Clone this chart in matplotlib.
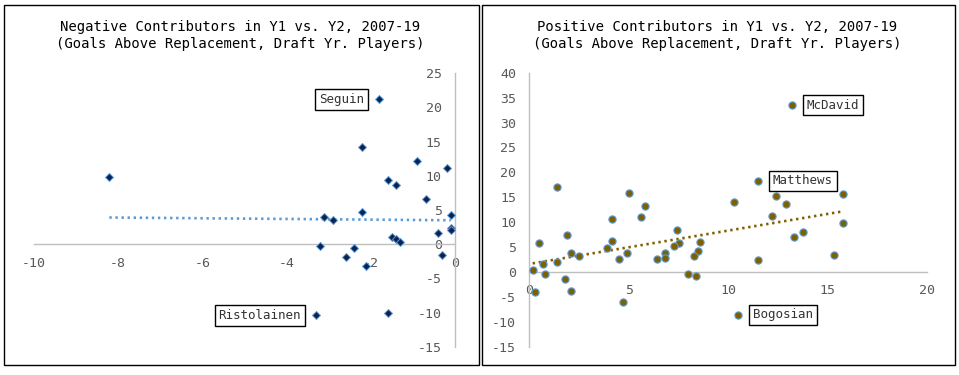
import numpy as np
import matplotlib
matplotlib.use("Agg")
import matplotlib.pyplot as plt
from matplotlib.patches import Rectangle

# ---------------- data ----------------
neg_y1 = [-8.21, -1.80, -2.20, -0.90, -0.18, -1.60, -1.40, -0.69, -2.20, -3.11,
          -2.90, -0.10, -0.10, -0.10, -0.40, -1.50, -1.40, -1.30, -3.21, -2.39,
          -2.60, -2.11, -0.30, -3.30, -1.60]
neg_y2 = [9.8, 21.2, 14.2, 12.1, 11.1, 9.4, 8.6, 6.6, 4.7, 4.0,
          3.5, 4.3, 2.4, 2.1, 1.6, 1.1, 0.7, 0.3, -0.3, -0.6,
          -1.9, -3.2, -1.6, -10.4, -10.1]

pos_y1 = [13.18, 11.47, 1.37, 5.01, 15.75, 12.38, 5.80, 10.27, 12.88, 4.17,
          5.59, 12.18, 15.75, 7.40, 13.77, 13.28, 1.88, 0.47, 4.17, 3.89,
          8.56, 7.50, 7.29, 8.46, 2.08, 2.48, 4.89, 6.80, 8.26, 15.31,
          4.49, 6.40, 6.80, 11.47, 1.37, 0.67, 0.17, 0.77, 7.96, 8.36,
          1.78, 0.27, 2.08, 4.69, 10.47]
pos_y2 = [33.5, 18.3, 17.1, 15.9, 15.7, 15.3, 13.3, 14.1, 13.7, 10.7,
          11.1, 11.3, 9.9, 8.5, 8.1, 7.1, 7.5, 5.9, 6.3, 4.9,
          6.0, 5.9, 5.2, 4.3, 3.9, 3.3, 3.9, 3.9, 3.3, 3.4,
          2.7, 2.7, 2.8, 2.5, 2.1, 1.7, 0.3, -0.5, -0.5, -0.9,
          -1.5, -4.0, -3.8, -6.0, -8.6]

neg_labels = {"Seguin": 1, "Ristolainen": 23}
pos_labels = {"McDavid": 0, "Matthews": 1, "Bogosian": 44}

neg_xticks = [-10, -8, -6, -4, -2, 0]
neg_yticks = [-15, -10, -5, 0, 5, 10, 15, 20, 25]
pos_xticks = [0, 5, 10, 15, 20]
pos_yticks = [-15, -10, -5, 0, 5, 10, 15, 20, 25, 30, 35, 40]

titles_neg = ["Negative Contributors in Y1 vs. Y2, 2007-19",
              "(Goals Above Replacement, Draft Yr. Players)"]
titles_pos = ["Positive Contributors in Y1 vs. Y2, 2007-19",
              "(Goals Above Replacement, Draft Yr. Players)"]

# ---------------- style ----------------
MONO = ["DejaVu Sans Mono"]
plt.rcParams['font.family'] = MONO
plt.rcParams['axes.unicode_minus'] = False
W, H = 959, 375
fig = plt.figure(figsize=(W / 100, H / 100), dpi=100)

AXIS_C = "#BFBFBF"
TICK_C = "#595959"
DOTS = (0, (0.9, 1.4))


def px_rect(x0, y0, x1, y1):
    return [x0 / W, 1 - y1 / H, (x1 - x0) / W, (y1 - y0) / H]


def style_axes(ax, xticks, yticks):
    for s in ("top", "right"):
        ax.spines[s].set_visible(False)
    ax.spines["left"].set_position(("data", 0))
    ax.spines["bottom"].set_position(("data", 0))
    for s in ("left", "bottom"):
        ax.spines[s].set_color(AXIS_C)
        ax.spines[s].set_linewidth(1.0)
    ax.set_xticks(xticks)
    ax.set_yticks(yticks)
    ax.tick_params(axis="both", length=0, labelsize=9.5, labelcolor=TICK_C)
    ax.tick_params(axis="y", pad=9.5)
    ax.tick_params(axis="x", pad=9)
    ax.patch.set_alpha(0)


# panel borders
for (x0, x1) in [(3.5, 478.5), (481.5, 954.5)]:
    fig.patches.append(Rectangle((x0 / W, 1 - 365 / H), (x1 - x0) / W, 360 / H,
                                 transform=fig.transFigure, fill=False,
                                 edgecolor="black", linewidth=1.0))

# ---------------- left panel ----------------
ax1 = fig.add_axes(px_rect(34, 73.3, 455, 346.7))
ax1.set_xlim(-10, 0)
ax1.set_ylim(-15, 25)
style_axes(ax1, neg_xticks, neg_yticks)
xn = np.array(neg_y1)
yn = np.array(neg_y2)
k, b = np.polyfit(xn, yn, 1)
xs = np.array([xn.min(), xn.max()])
ax1.plot(xs, k * xs + b, color="#5B9BD5", lw=1.9, linestyle=DOTS, zorder=2)
ax1.plot(xn, yn, linestyle="none", marker="D", ms=4.0, mfc="#0A2357",
         mec="#5B9BD5", mew=0.7, zorder=3)
for name, i in neg_labels.items():
    ax1.annotate(name, xy=(xn[i], yn[i]), xytext=(-11, 0), textcoords="offset points",
                 ha="right", va="center", fontsize=9, color="#333333", zorder=5,
                 bbox=dict(boxstyle="square,pad=0.3", fc="white", ec="black", lw=1.0))

# ---------------- right panel ----------------
ax2 = fig.add_axes(px_rect(529.3, 72.7, 927.3, 346.7))
ax2.set_xlim(0, 20)
ax2.set_ylim(-15, 40)
style_axes(ax2, pos_xticks, pos_yticks)
xp = np.array(pos_y1)
yp = np.array(pos_y2)
k2, b2 = np.polyfit(xp, yp, 1)
xs2 = np.array([xp.min(), xp.max()])
ax2.plot(xs2, k2 * xs2 + b2, color="#7F6000", lw=1.9, linestyle=DOTS, zorder=2)
ax2.plot(xp, yp, linestyle="none", marker="o", ms=5.2, mfc="#7F6000",
         mec="#5B9BD5", mew=0.8, zorder=3)
for name, i in pos_labels.items():
    ax2.annotate(name, xy=(xp[i], yp[i]), xytext=(11, 0), textcoords="offset points",
                 ha="left", va="center", fontsize=9, color="#333333", zorder=5,
                 bbox=dict(boxstyle="square,pad=0.3", fc="white", ec="black", lw=1.0))

# ---------------- titles ----------------
for cx, lines in [(240.3, titles_neg), (717.5, titles_pos)]:
    for j, line in enumerate(lines):
        fig.text(cx / W, 1 - (27.3 + 17 * j) / H, line, ha="center", va="center",
                 fontsize=10, color="black")

fig.savefig("out.png", dpi=100)
